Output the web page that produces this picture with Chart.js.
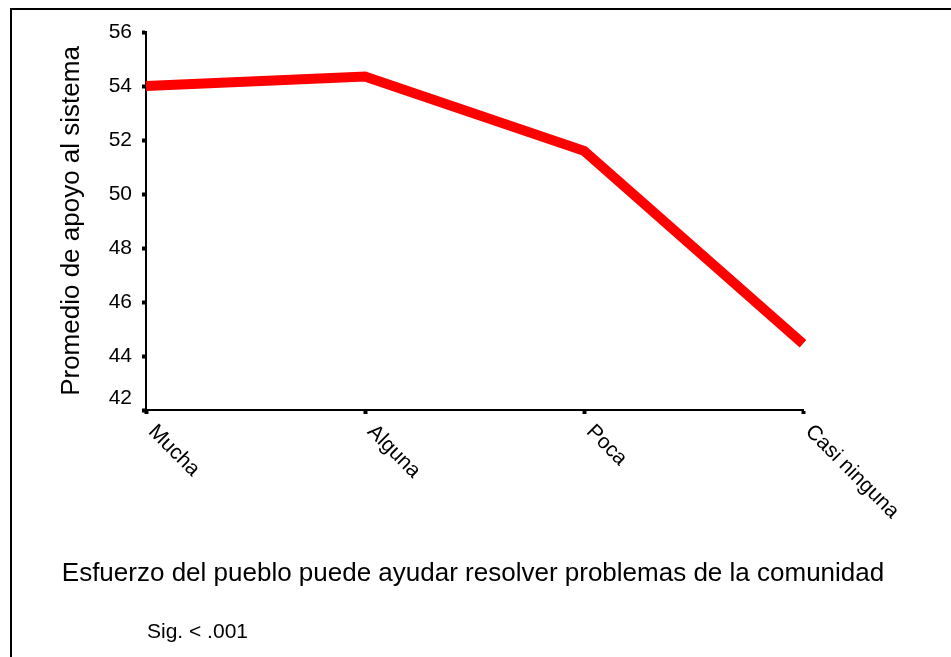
<!DOCTYPE html>
<html>
<head>
<meta charset="utf-8">
<script src="https://cdn.jsdelivr.net/npm/chart.js@4"></script>
<style>
  html, body { margin: 0; padding: 0; background: #fff; }
  #wrap { width: 951px; height: 657px; position: relative; }
</style>
</head>
<body>
<div id="wrap"><canvas id="chart"></canvas></div>
<script>
// data
const categories = ['Mucha', 'Alguna', 'Poca', 'Casi ninguna'];
const apoyo = [54.0, 54.35, 51.6, 44.45];
const yTicks = [42, 44, 46, 48, 50, 52, 54, 56];

const yTitle = 'Promedio de apoyo al sistema';
const xTitle = 'Esfuerzo del pueblo puede ayudar resolver problemas de la comunidad';
const note = 'Sig. < .001';

const FONT = '"Liberation Sans", Arial, sans-serif';

// frame, labels and titles drawn by hand (labels go down-right, not up)
const decor = {
    id: 'decor',
    beforeDraw(chart) {
        const ctx = chart.ctx;
        ctx.save();
        ctx.fillStyle = '#fff';
        ctx.fillRect(0, 0, chart.width, chart.height);
        ctx.strokeStyle = '#000';
        ctx.lineWidth = 2;
        ctx.beginPath();
        ctx.moveTo(11, 657);
        ctx.lineTo(11, 9);
        ctx.lineTo(951, 9);
        ctx.stroke();
        ctx.restore();
    },
    afterDraw(chart) {
        const ctx = chart.ctx;
        const x = chart.scales.x;
        const y = chart.scales.y;
        ctx.save();
        ctx.fillStyle = '#000';

        // y tick labels
        ctx.font = '21px ' + FONT;
        ctx.textAlign = 'right';
        ctx.textBaseline = 'middle';
        yTicks.forEach(v => {
            let py = y.getPixelForValue(v);
            if (v === yTicks[0]) py -= 12;
            ctx.fillText(String(v), y.right - 14, py);
        });

        // x tick labels, rotated 45deg clockwise
        ctx.font = '21px ' + FONT;
        ctx.textAlign = 'left';
        ctx.textBaseline = 'top';
        categories.forEach((c, i) => {
            const px = x.getPixelForValue(i);
            ctx.save();
            ctx.translate(px + 13, x.top + 11);
            ctx.rotate(Math.PI / 4);
            ctx.fillText(c, 0, 0);
            ctx.restore();
        });

        // y title
        ctx.save();
        ctx.font = '26px ' + FONT;
        ctx.textAlign = 'center';
        ctx.textBaseline = 'middle';
        ctx.translate(72, 221);
        ctx.rotate(-Math.PI / 2);
        ctx.fillText(yTitle, 0, 0);
        ctx.restore();

        // x title
        ctx.font = '26px ' + FONT;
        ctx.textAlign = 'center';
        ctx.textBaseline = 'middle';
        ctx.fillText(xTitle, 473, 574);

        // significance note
        ctx.font = '21px ' + FONT;
        ctx.textAlign = 'left';
        ctx.fillText(note, 147, 632);
        ctx.restore();
    }
};

new Chart(document.getElementById('chart'), {
    type: 'line',
    data: {
        labels: categories,
        datasets: [{
            label: yTitle,
            data: apoyo,
            borderColor: '#ff0000',
            borderWidth: 10,
            pointRadius: 0,
            tension: 0,
            fill: false
        }]
    },
    options: {
        responsive: true,
        maintainAspectRatio: false,
        animation: false,
        layout: {
            padding: { left: 0, top: 32, right: 148, bottom: 0 }
        },
        plugins: {
            legend: { display: false },
            tooltip: { enabled: false }
        },
        scales: {
            x: {
                type: 'category',
                offset: false,
                grid: {
                    drawOnChartArea: false,
                    drawTicks: true,
                    tickLength: 4,
                    tickWidth: 4,
                    color: '#000'
                },
                border: { display: true, color: '#000', width: 2 },
                ticks: { display: false },
                afterFit(scale) { scale.height = 247; }
            },
            y: {
                min: 42,
                max: 56,
                grid: {
                    drawOnChartArea: false,
                    drawTicks: true,
                    tickLength: 4,
                    tickWidth: 4,
                    color: '#000'
                },
                border: { display: true, color: '#000', width: 2 },
                ticks: { display: false, stepSize: 2 },
                afterFit(scale) { scale.width = 146; }
            }
        }
    },
    plugins: [decor]
});
</script>
</body>
</html>
